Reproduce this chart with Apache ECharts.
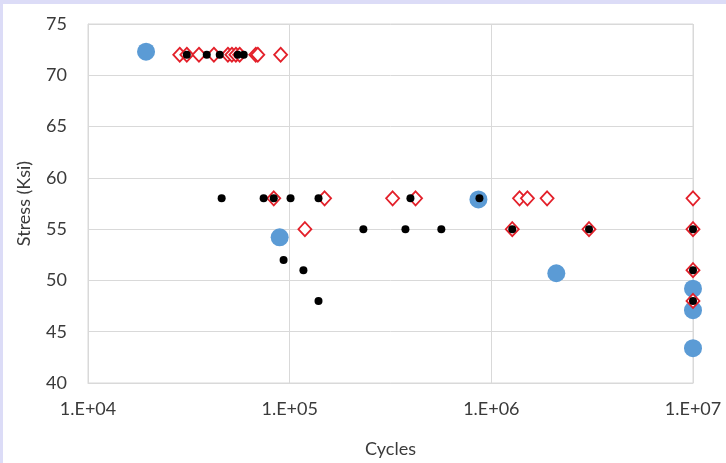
<!DOCTYPE html>
<html>
<head>
<meta charset="utf-8">
<script src="https://cdn.jsdelivr.net/npm/echarts@6/dist/echarts.min.js"></script>
<style>
html,body{margin:0;padding:0;background:#dcdcf7;width:726px;height:463px;overflow:hidden;}
#c{position:absolute;left:3px;top:4px;width:723px;height:459px;background:#ffffff;}
</style>
</head>
<body>
<div id="c"></div>
<script>
// Data: [cycles, stress (ksi)]
var blueSeries = [
  [19400, 72.3], [89200, 54.2], [863000, 57.9], [2100000, 50.7],
  [10000000, 49.2], [10000000, 47.1], [10000000, 43.4]
];
var redDiamonds = [
  [28500, 72], [30900, 72], [35500, 72], [42100, 72], [49400, 72], [51700, 72],
  [54100, 72], [56500, 72], [67900, 72], [69500, 72], [90200, 72],
  [83400, 58], [149000, 58], [324000, 58], [421000, 58], [1380000, 58], [1510000, 58], [1890000, 58], [10000000, 58],
  [119000, 55], [1270000, 55], [3050000, 55], [10000000, 55],
  [10000000, 51], [10000000, 48]
];
var blackDots = [
  [30900, 72], [38800, 72], [45000, 72], [55300, 72], [59200, 72],
  [46000, 58], [74300, 58], [83400, 58], [101000, 58], [139000, 58], [397000, 58], [873000, 58],
  [232000, 55], [375000, 55], [565000, 55], [1270000, 55], [3050000, 55], [10000000, 55],
  [93300, 52], [117000, 51], [139000, 48],
  [10000000, 51], [10000000, 48]
];
var xTickLabels = ['1.E+04', '1.E+05', '1.E+06', '1.E+07'];
var yMin = 40, yMax = 75, yStep = 5;

var font = 'Lato, "Open Sans", sans-serif';
var textColor = '#3a3a3a';
var gridColor = '#d9d9d9';

var chart = echarts.init(document.getElementById('c'), null, {renderer: 'canvas'});
chart.setOption({
  animation: false,
  backgroundColor: '#ffffff',
  grid: {left: 85, right: 33, top: 20, bottom: 79, show: true, borderColor: gridColor, borderWidth: 1, containLabel: false},
  xAxis: {
    type: 'log', logBase: 10, min: 10000, max: 10000000,
    name: 'Cycles', nameLocation: 'middle', nameGap: 57,
    nameTextStyle: {fontFamily: font, fontSize: 18, color: textColor},
    axisLine: {show: true, lineStyle: {color: gridColor}},
    axisTick: {show: false},
    splitLine: {show: true, lineStyle: {color: gridColor, width: 1}},
    minorTick: {show: false}, minorSplitLine: {show: false},
    axisLabel: {
      fontFamily: font, fontSize: 18, color: textColor, margin: 17,
      formatter: function (v) {
        var e = Math.round(Math.log10(v)) - 4;
        return xTickLabels[e] !== undefined ? xTickLabels[e] : '';
      }
    }
  },
  yAxis: {
    type: 'value', min: yMin, max: yMax, interval: yStep,
    name: 'Stress (Ksi)', nameLocation: 'middle', nameGap: 55, nameRotate: 90,
    nameTextStyle: {fontFamily: font, fontSize: 18, color: textColor},
    axisLine: {show: true, lineStyle: {color: gridColor}},
    axisTick: {show: false},
    splitLine: {show: true, lineStyle: {color: gridColor, width: 1}},
    axisLabel: {fontFamily: font, fontSize: 18, color: textColor, margin: 21}
  },
  series: [
    {
      type: 'scatter', data: blueSeries, symbol: 'circle', symbolSize: 18,
      itemStyle: {color: '#5b9bd5', opacity: 1}, z: 2
    },
    {
      type: 'scatter', data: redDiamonds, symbol: 'diamond', symbolSize: [13, 14],
      itemStyle: {color: '#ffffff', borderColor: '#e3202a', borderWidth: 1.8, opacity: 1}, z: 3
    },
    {
      type: 'scatter', data: blackDots, symbol: 'circle', symbolSize: 8,
      itemStyle: {color: '#000000', opacity: 1}, z: 4
    }
  ]
});
</script>
</body>
</html>
